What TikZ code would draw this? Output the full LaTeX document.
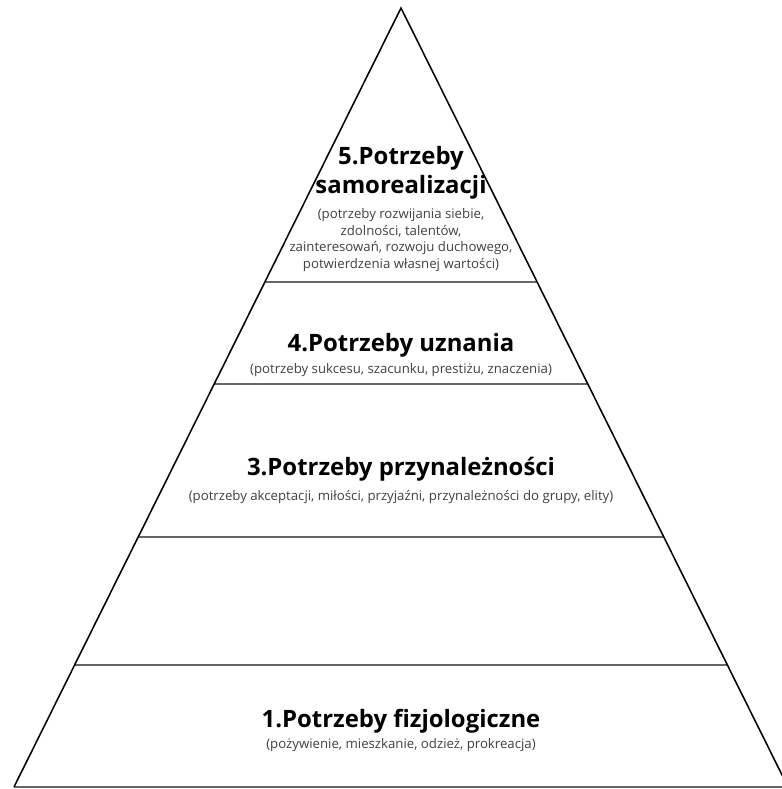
\documentclass[tikz,border=0pt]{standalone}
\usepackage{fontspec}
\setmainfont{Open Sans}
\usetikzlibrary{calc}
\tikzstyle{side-line}=[draw=black,line width=1.1pt]
\tikzstyle{level-line}=[draw=black!60,line width=1.6pt]
\tikzstyle{title-node}=[align=center,inner sep=0pt,font=\bfseries\fontsize{17}{21}\selectfont]
\tikzstyle{note-node}=[align=center,inner sep=0pt,text=black!75,font=\fontsize{9.4}{12}\selectfont]

\begin{document}
\begin{tikzpicture}[x=0.025cm,y=-0.025cm]
        \useasboundingbox (0,0) rectangle (782,789);

        \begin{scope}
            \coordinate (top) at (401,8);
            \coordinate (bl) at (14,787);
            \coordinate (br) at (788,787);
            \coordinate (l5) at ($(top)!0.3517!(bl)$);
            \coordinate (r5) at ($(top)!0.3517!(br)$);
            \coordinate (l4) at ($(top)!0.4827!(bl)$);
            \coordinate (r4) at ($(top)!0.4827!(br)$);
            \coordinate (l3) at ($(top)!0.6791!(bl)$);
            \coordinate (r3) at ($(top)!0.6791!(br)$);
            \coordinate (l2) at ($(top)!0.8434!(bl)$);
            \coordinate (r2) at ($(top)!0.8434!(br)$);
        \end{scope}

        \begin{scope}
            \path[level-line] (l5) -- (r5);
            \path[level-line] (l4) -- (r4);
            \path[level-line] (l3) -- (r3);
            \path[level-line] (l2) -- (r2);
            \path[level-line] (bl) -- (br);
            \path[side-line, line join=miter] (bl) -- (top) -- (br);
        \end{scope}

        \begin{scope}
            \node (t5)[title-node] at (401,173) {5.Potrzeby\\samorealizacji};
            \node (n5)[note-node] at (401,240) {(potrzeby rozwijania siebie,\\zdolności, talentów,\\zainteresowań, rozwoju duchowego,\\potwierdzenia własnej wartości)};
            \node (t4)[title-node] at (401,345) {4.Potrzeby uznania};
            \node (n4)[note-node] at (401,370) {(potrzeby sukcesu, szacunku, prestiżu, znaczenia)};
            \node (t3)[title-node] at (401,469) {3.Potrzeby przynależności};
            \node (n3)[note-node] at (401,497) {(potrzeby akceptacji, miłości, przyjaźni, przynależności do grupy, elity)};
            \node (t1)[title-node] at (401,721) {1.Potrzeby fizjologiczne};
            \node (n1)[note-node] at (401,745) {(pożywienie, mieszkanie, odzież, prokreacja)};
        \end{scope}

    \end{tikzpicture}
\end{document}
